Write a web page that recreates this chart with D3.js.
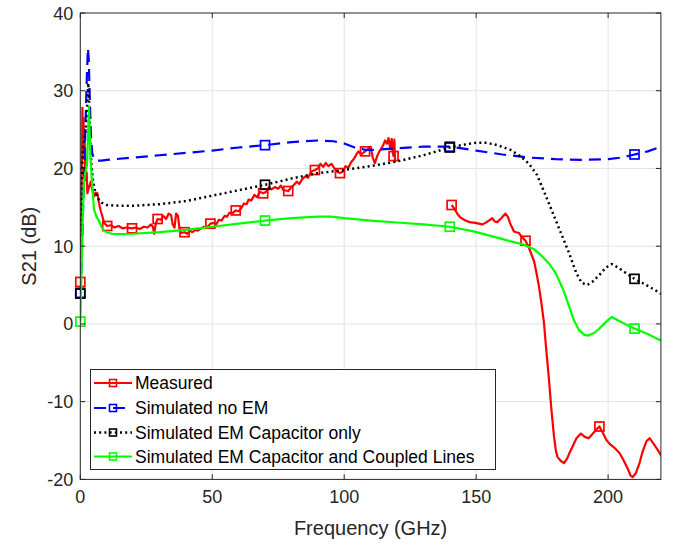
<!DOCTYPE html>
<html>
<head>
<meta charset="utf-8">
<script src="https://cdn.jsdelivr.net/npm/d3@7"></script>
<style>
  html, body { margin: 0; padding: 0; background: #fff; }
  svg { display: block; font-family: "Liberation Sans", Arial, Helvetica, sans-serif; }
</style>
</head>
<body>
<svg id="chart" width="675" height="546"></svg>
<script>
// ---- data -------------------------------------------------------------
const xTicks = [0, 50, 100, 150, 200];
const yTicks = [-20, -10, 0, 10, 20, 30, 40];

const seriesNames = [
  "Measured",
  "Simulated no EM",
  "Simulated EM Capacitor only",
  "Simulated EM Capacitor and Coupled Lines"
];

// Measured S21, lower band (GHz, dB)
const measLowFreq = [0, 0.5, 0.8, 1.0, 1.2, 1.4, 1.6, 1.8, 2.1, 2.4, 2.7, 3.2, 4.0, 4.6, 5.2, 5.8, 6.5, 7.1, 7.8, 8.4, 9.0,
  10.2, 11.5, 13, 14.5, 16, 17.5, 19.6, 21, 22.5, 24, 25.5, 26.8, 27.5, 28.0, 28.6, 29.3, 30.5, 31.5, 32.5, 33.5, 34.4,
  35.0, 35.7, 36.3, 37.0, 37.6, 38.2, 39.5, 40.5, 41.5, 42.5, 43.5, 44.5, 45.8, 47, 48, 49.3, 50.5, 51.5, 52.5, 53.5,
  54.7, 55.6, 56.5, 57.5, 58.9, 60, 61, 62, 63, 63.8, 64.8, 66, 67, 68, 69.3, 70.5, 71.5, 72.5, 73.7, 75, 76, 77, 78.8,
  80, 81, 82, 83, 84, 85.3, 86.3, 87.6, 88.9, 90, 91, 92, 93, 94, 95.2, 96.3, 97.3, 98.4, 99.5, 100.5, 101.6, 102.6,
  103.6, 104.6, 105.4, 106.4, 107.9, 109, 110, 110.8, 111.6, 112.5, 113.5, 114.5, 115.5, 116.2, 116.8, 117.4, 118.0,
  118.4, 118.7, 119.0, 119.3];
const measLowS21 = [5.4, 18, 27.8, 22, 26.5, 23.7, 25, 20, 18.5, 19.5, 16.8, 17.5, 18.3, 17.2, 16.4, 16.9, 16.8, 15.5, 14.5, 13.8, 13.0,
  12.6, 12.7, 12.4, 12.6, 12.3, 12.4, 12.3, 12.4, 12.2, 12.5, 12.4, 12.8, 12.5, 11.6, 12.9, 13.5, 13.4, 13.9, 13.5, 14.2, 14.0,
  12.8, 12.4, 14.2, 13.9, 12.2, 11.7, 11.8, 11.6, 12.0, 11.8, 12.1, 12.0, 12.3, 12.5, 12.4, 12.9, 13.0, 12.8, 13.4, 13.3,
  13.9, 13.8, 14.3, 14.2, 14.6, 14.5, 14.9, 15.5, 15.4, 16.0, 15.9, 16.6, 16.3, 17.0, 16.8, 17.0, 17.6, 17.3, 17.6, 17.4, 17.8, 17.2, 17.1,
  17.6, 17.9, 18.3, 18.0, 18.6, 19.0, 18.8, 19.6, 19.8, 20.0, 20.6, 20.2, 20.7, 20.3, 20.6, 20.0, 19.6, 19.4, 19.6, 20.3, 20.1, 20.8,
  21.2, 21.8, 22.2, 21.8, 22.2, 22.5, 22.8, 21.4, 20.7, 21.6, 22.3, 22.8, 23.6, 23.2, 23.9, 22.6, 23.8,
  22.0, 21.6, 23.7, 20.8];

// Measured S21, upper band (GHz, dB)
const measHighFreq = [140.7, 141.8, 142.8, 144, 145.9, 147.5, 149.7, 151, 152.3, 153.5, 154.8, 156.1, 157, 158, 159.5, 161.1,
  162.0, 162.8, 164.3, 165.2, 166.2, 167.3, 168.7, 170, 171, 172, 173, 173.8, 174.8, 175.7, 176.6, 177.6, 178.5, 179.5,
  180.2, 180.8, 182, 183.3, 184.5, 185.5, 186.5, 188, 189.7, 191, 192.6, 194, 195.5, 196.7, 198, 199.3, 200.5, 202.3,
  204.3, 205.8, 207.4, 208.5, 209.3, 210.5, 211.9, 213, 214.5, 215.7, 217, 218.8, 220, 221];
const measHighS21 = [15.3, 14.8, 14.2, 13.7, 13.3, 13.1, 13.0, 12.9, 12.8, 13.0, 13.3, 13.6, 13.2, 13.1, 13.6, 14.2,
  13.8, 13.0, 11.9, 11.8, 11.7, 11.2, 10.7, 9.8, 8.9, 8.0, 6.3, 4.8, 2.5, 0.1, -3.5, -7.2, -11, -14.5,
  -16.3, -17.1, -17.6, -17.9, -17.3, -16.5, -15.8, -14.7, -14.1, -14.5, -14.7, -14.2, -13.6, -13.2, -14, -14.9, -15.4, -15.9,
  -16.6, -17.5, -18.6, -19.5, -19.7, -19.2, -17.9, -16.5, -15.1, -14.7, -15.3, -16.2, -16.9, -17.3];

// Frequencies carrying a marker on the measured trace
const measMarkerFreqs = [0, 10.2, 19.6, 29.3, 39.5, 49.3, 58.9, 69.3, 78.8, 88.9, 98.4, 107.9, 118.7, 140.7, 168.7, 196.7];

// Simulated without EM
const noEmFreq = [0, 0.5, 1.0, 1.5, 2.0, 2.5, 2.9, 3.2, 3.6, 4.0, 4.5, 5.2, 6, 8, 10, 20, 30, 40, 50, 60, 70, 80, 90, 96,
  100, 104, 108, 112, 120, 130, 140, 150, 160, 170, 180, 190, 200, 205, 210, 215, 220];
const noEmS21 = [4.0, 8, 14, 20, 26, 32, 35.5, 34, 29, 24.5, 22, 21.2, 21.0, 21.0, 21.1, 21.4, 21.7, 22.0, 22.3, 22.7, 23.0, 23.4, 23.6, 23.5,
  23.2, 22.7, 22.4, 22.4, 22.6, 22.8, 22.8, 22.3, 21.8, 21.4, 21.2, 21.1, 21.2, 21.4, 21.8, 22.2, 22.8];

// Simulated with EM model of the capacitor only
const capFreq = [0, 0.4, 0.8, 1.2, 1.6, 2.1, 2.6, 3.0, 3.3, 3.7, 4.2, 4.8, 5.5, 6.5, 8, 10, 15, 20, 30, 40, 50, 60, 70, 80,
  90, 100, 110, 120, 130, 140, 146, 150, 154, 158, 163, 167, 170, 173, 176, 179, 182, 185, 188, 190, 192, 194, 196.7,
  199, 201.4, 204, 207, 210, 215, 218, 221];
const capS21 = [3.9, 12, 21, 23, 24, 25, 28, 31, 29, 24, 20.5, 18.5, 17.2, 16.2, 15.6, 15.3, 15.2, 15.2, 15.4, 15.8, 16.5, 17.2, 17.9, 18.7,
  19.4, 19.8, 20.3, 20.9, 21.7, 22.7, 23.1, 23.3, 23.3, 23.0, 22.4, 21.5, 20.6, 19.2, 16.8, 14.3, 11.8, 9.3, 6.5, 5.3, 5.0, 5.4, 6.3,
  7.2, 7.7, 7.2, 6.5, 5.8, 4.9, 4.3, 3.7];

// Simulated with EM model of capacitor and coupled lines
const fullFreq = [0, 0.4, 0.8, 1.1, 1.4, 1.9, 2.5, 2.9, 3.3, 3.6, 4.0, 4.6, 5.2, 6, 7, 8, 9, 10, 12, 15, 20, 30, 40, 50, 60,
  70, 80, 90, 95, 100, 110, 120, 130, 140, 149, 159, 168, 172, 175, 178, 180.2, 183, 185.2, 187, 189, 191, 192.5, 194.5,
  196.7, 199, 201.4, 204, 207, 210, 215, 218, 221];
const fullS21 = [0.3, 6, 11.7, 15.5, 18.3, 19.5, 20.4, 24, 28, 24, 20.5, 17.5, 14.7, 13.9, 13.3, 12.5, 12.0, 11.8, 11.6, 11.55, 11.6, 11.8, 12.1, 12.5, 12.9,
  13.3, 13.6, 13.8, 13.8, 13.6, 13.3, 13.05, 12.8, 12.5, 11.9, 11.0, 10.2, 9.6, 8.7, 7.6, 6.5, 4.4, 2.3, 0.5, -0.8, -1.4, -1.5, -1.2,
  -0.6, 0.2, 0.9, 0.4, -0.1, -0.6, -1.3, -1.8, -2.3];

// Frequencies carrying a marker on the simulated traces
const simMarkerFreqs = [0, 70, 140, 210];

// ---- layout -----------------------------------------------------------
const svg = d3.select("#chart");
const plot = { left: 80.3, right: 660.9, top: 13, bottom: 479.4 };
const x = d3.scaleLinear().domain([0, 220]).range([plot.left, plot.right]);
const y = d3.scaleLinear().domain([-20, 40]).range([plot.bottom, plot.top]);
const axisColor = "#262626";

svg.append("defs").append("clipPath").attr("id", "plotClip")
  .append("rect")
  .attr("x", plot.left).attr("y", plot.top)
  .attr("width", plot.right - plot.left).attr("height", plot.bottom - plot.top);

// grid
const grid = svg.append("g");
grid.selectAll("line.gx").data(xTicks.filter(t => t > 0)).enter().append("line")
  .attr("x1", d => x(d)).attr("x2", d => x(d))
  .attr("y1", plot.top).attr("y2", plot.bottom)
  .attr("stroke", "#e3e3e3").attr("stroke-width", 1);
grid.selectAll("line.gy").data(yTicks.filter(t => t > -20 && t < 40)).enter().append("line")
  .attr("x1", plot.left).attr("x2", plot.right)
  .attr("y1", d => y(d)).attr("y2", d => y(d))
  .attr("stroke", "#e3e3e3").attr("stroke-width", 1);

// traces (lines clipped to the axes, markers drawn unclipped)
const traces = svg.append("g");
const zip = (fs, vs) => fs.map((f, i) => ({ f, v: vs[i] }));
const line = d3.line().x(d => x(d.f)).y(d => y(d.v));

const styles = [
  { color: "#ff0000", width: 2.2, dash: null },
  { color: "#0000ff", width: 2.2, dash: "12,7" },
  { color: "#000000", width: 2.5, dash: "2,3.2" },
  { color: "#00ff00", width: 2.2, dash: null }
];

const seriesData = [
  [zip(measLowFreq, measLowS21), zip(measHighFreq, measHighS21)],
  [zip(noEmFreq, noEmS21)],
  [zip(capFreq, capS21)],
  [zip(fullFreq, fullS21)]
];
const markerFreqs = [measMarkerFreqs, simMarkerFreqs, simMarkerFreqs, simMarkerFreqs];
const mSize = 9;

seriesData.forEach((segments, si) => {
  const st = styles[si];
  const g = traces.append("g");
  const lines = g.append("g").attr("clip-path", "url(#plotClip)");
  segments.forEach(seg => {
    lines.append("path").datum(seg)
      .attr("d", line)
      .attr("fill", "none")
      .attr("stroke", st.color)
      .attr("stroke-width", st.width)
      .attr("stroke-linejoin", "round")
      .attr("stroke-dasharray", st.dash);
  });
  const all = segments.flat();
  const pts = markerFreqs[si].map(mf => all.find(p => p.f === mf)).filter(Boolean);
  g.selectAll("rect").data(pts).enter().append("rect")
    .attr("x", d => x(d.f) - mSize / 2).attr("y", d => y(d.v) - mSize / 2)
    .attr("width", mSize).attr("height", mSize)
    .attr("fill", "none").attr("stroke", st.color).attr("stroke-width", 1.7);
});

// axes box
svg.append("rect")
  .attr("x", plot.left).attr("y", plot.top)
  .attr("width", plot.right - plot.left).attr("height", plot.bottom - plot.top)
  .attr("fill", "none").attr("stroke", axisColor).attr("stroke-width", 1);

const tickLen = 5;
const ticks = svg.append("g").attr("stroke", axisColor).attr("stroke-width", 1);
xTicks.forEach(t => {
  ticks.append("line").attr("x1", x(t)).attr("x2", x(t)).attr("y1", plot.bottom).attr("y2", plot.bottom - tickLen);
  ticks.append("line").attr("x1", x(t)).attr("x2", x(t)).attr("y1", plot.top).attr("y2", plot.top + tickLen);
});
yTicks.forEach(t => {
  ticks.append("line").attr("x1", plot.left).attr("x2", plot.left + tickLen).attr("y1", y(t)).attr("y2", y(t));
  ticks.append("line").attr("x1", plot.right).attr("x2", plot.right - tickLen).attr("y1", y(t)).attr("y2", y(t));
});

// tick labels
svg.append("g").selectAll("text").data(xTicks).enter().append("text")
  .attr("x", d => x(d)).attr("y", plot.bottom + 24)
  .attr("text-anchor", "middle").attr("font-size", 18).attr("fill", axisColor)
  .text(d => d);
svg.append("g").selectAll("text").data(yTicks).enter().append("text")
  .attr("x", plot.left - 7).attr("y", d => y(d) + 6.5)
  .attr("text-anchor", "end").attr("font-size", 18).attr("fill", axisColor)
  .text(d => d);

// axis titles
svg.append("text")
  .attr("x", (plot.left + plot.right) / 2).attr("y", 535)
  .attr("text-anchor", "middle").attr("font-size", 20).attr("fill", axisColor)
  .text("Frequency (GHz)");
svg.append("text")
  .attr("transform", `translate(36,${(plot.top + plot.bottom) / 2}) rotate(-90)`)
  .attr("text-anchor", "middle").attr("font-size", 20).attr("fill", axisColor)
  .text("S21 (dB)");

// legend
const legend = svg.append("g");
legend.append("rect")
  .attr("x", 90.5).attr("y", 369.5).attr("width", 405).attr("height", 100)
  .attr("fill", "#fff").attr("stroke", axisColor).attr("stroke-width", 1);
const rowY = [383, 408, 432.5, 456.5];
seriesNames.forEach((name, i) => {
  const st = styles[i];
  legend.append("line")
    .attr("x1", 94).attr("x2", 132).attr("y1", rowY[i]).attr("y2", rowY[i])
    .attr("stroke", st.color).attr("stroke-width", st.width)
    .attr("stroke-dasharray", st.dash);
  legend.append("rect")
    .attr("x", 113 - 3.5).attr("y", rowY[i] - 3.5).attr("width", 7).attr("height", 7)
    .attr("fill", "none").attr("stroke", st.color).attr("stroke-width", 1.6);
  legend.append("text")
    .attr("x", 135).attr("y", rowY[i] + 6)
    .attr("font-size", 17.5).attr("fill", "#000")
    .text(name);
});
</script>
</body>
</html>
